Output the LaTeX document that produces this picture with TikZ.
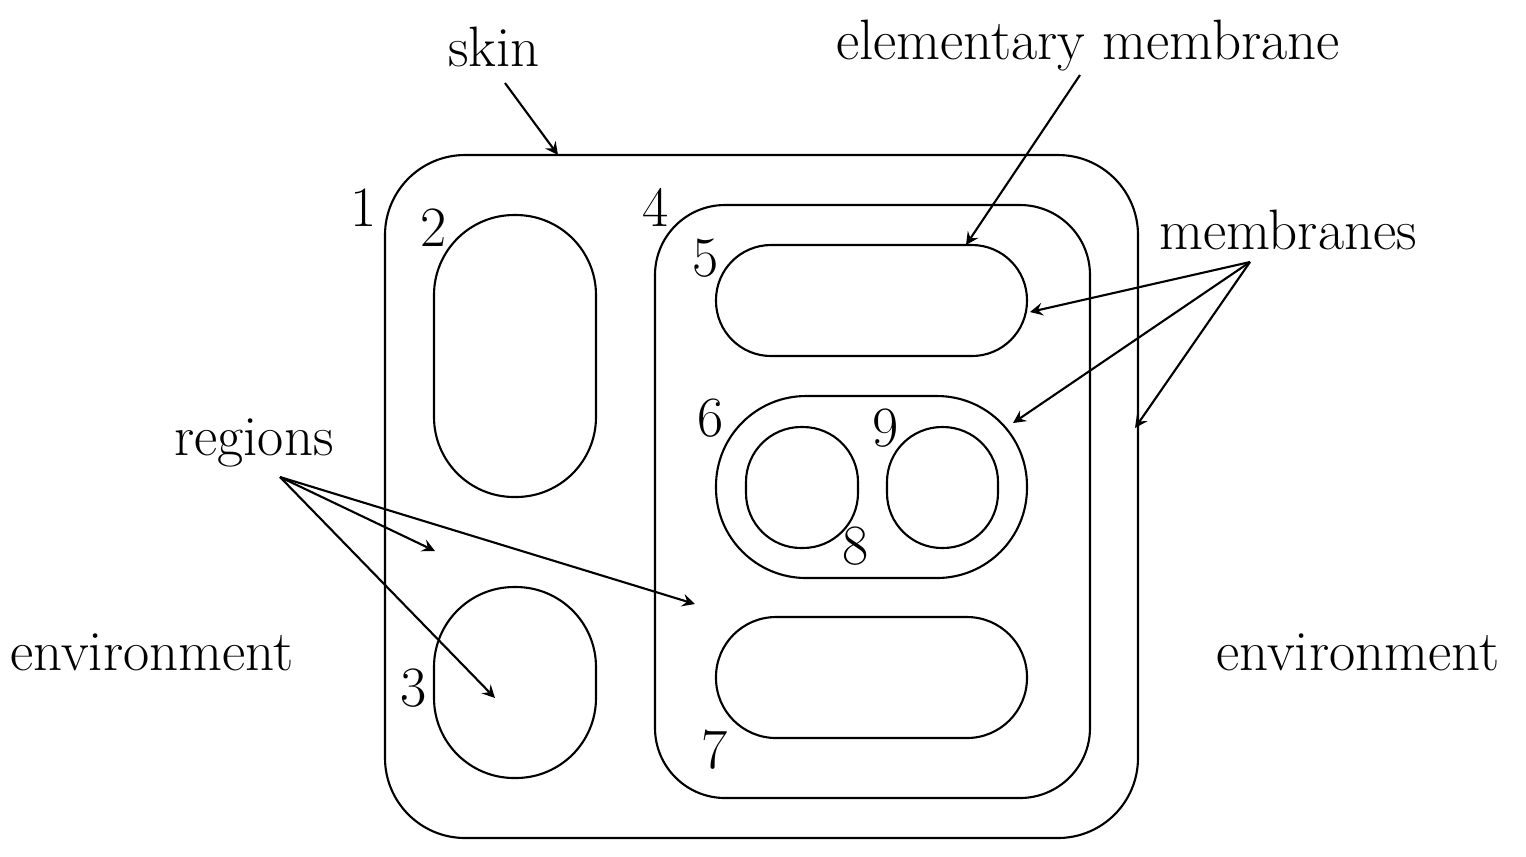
\documentclass[tikz,border=0pt]{standalone}
\begin{document}
\begin{tikzpicture}[x=0.01cm,y=-0.01cm,
  mem/.style={draw,line width=0.6pt},
  lbl/.style={font=\fontsize{16.2}{19}\selectfont,inner sep=1pt},
  arr/.style={->,>=stealth,line width=0.6pt}]
\useasboundingbox (0,0) rectangle (1526,856);
\draw[mem,rounded corners=0.8cm] (385,155) rectangle (1138,838);
\draw[mem,rounded corners=0.7cm] (655,205) rectangle (1090,798);
\draw[mem,rounded corners=0.8cm] (434,215) rectangle (596,497);
\draw[mem,rounded corners=0.8cm] (434,587) rectangle (596,778);
\draw[mem,rounded corners=0.55cm] (716,245) rectangle (1027,356);
\draw[mem,rounded corners=0.9cm] (716,396) rectangle (1027,578);
\draw[mem,rounded corners=0.55cm] (746,427) rectangle (858,548);
\draw[mem,rounded corners=0.55cm] (887,427) rectangle (998,548);
\draw[mem,rounded corners=0.6cm] (716,617) rectangle (1027,738);
\node[lbl] (skin) at (494,47) {skin};
\node[lbl] (elem) at (1088,45) {elementary membrane};
\node[lbl] (mems) at (1288,230) {membranes};
\node[lbl] (reg) at (254,443) {regions};
\node[lbl] (env1) at (152,652) {environment};
\node[lbl] (env2) at (1358,652) {environment};
\node[lbl] (n1) at (364,208) {1};
\node[lbl] (n2) at (434,228) {2};
\node[lbl] (n3) at (414,688) {3};
\node[lbl] (n4) at (656,207) {4};
\node[lbl] (n5) at (706,258) {5};
\node[lbl] (n6) at (711,418) {6};
\node[lbl] (n7) at (715,750) {7};
\node[lbl] (n8) at (856,546) {8};
\node[lbl] (n9) at (886,428) {9};
\coordinate (cs) at (558,155);
\coordinate (ce) at (966,245);
\coordinate (cm1) at (1030,312);
\coordinate (cm2) at (1013,423);
\coordinate (cm3) at (1135,428);
\coordinate (cr1) at (435,551);
\coordinate (cr2) at (695,604);
\coordinate (cr3) at (495,698);
\coordinate (ms) at (1250,262);
\coordinate (rs) at (280,477);
\draw[arr] (505,83) -- (cs);
\draw[arr] (1080,75) -- (ce);
\draw[arr] (ms) -- (cm1);
\draw[arr] (ms) -- (cm2);
\draw[arr] (ms) -- (cm3);
\draw[arr] (rs) -- (cr1);
\draw[arr] (rs) -- (cr2);
\draw[arr] (rs) -- (cr3);
\end{tikzpicture}
\end{document}
